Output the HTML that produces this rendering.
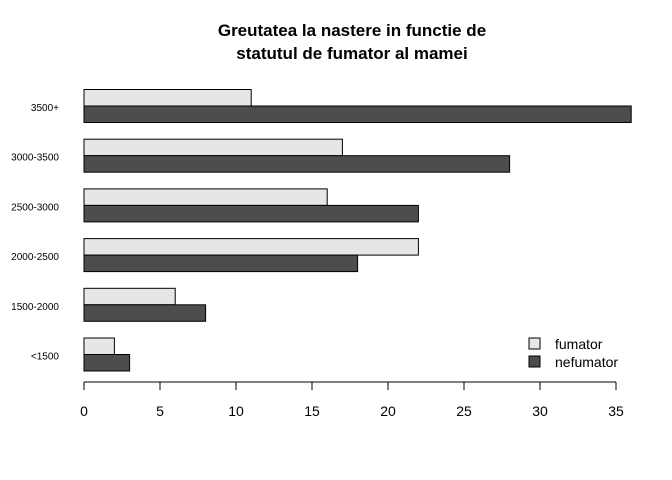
<!DOCTYPE html>
<html><head><meta charset="utf-8"><style>
body{margin:0;background:#fff}
svg{display:block;font-family:"Liberation Sans",Arial,sans-serif}
</style></head><body>
<svg width="672" height="480">
<text x="352" y="36" text-anchor="middle" font-size="17" font-weight="bold">Greutatea la nastere in functie de</text>
<text x="352" y="59" text-anchor="middle" font-size="17" font-weight="bold">statutul de fumator al mamei</text>
<g id="bars"></g>
<g id="axis"></g>
<g>
<rect x="529" y="338" width="11" height="11" fill="#e6e6e6" stroke="#000"/>
<text x="555" y="349" font-size="14">fumator</text>
<rect x="529" y="356" width="11" height="11" fill="#4d4d4d" stroke="#000"/>
<text x="555" y="367" font-size="14">nefumator</text>
</g>
</svg>
<script>
const categories=["<1500","1500-2000","2000-2500","2500-3000","3000-3500","3500+"];
const fumator=[2,6,22,16,17,11];
const nefumator=[3,8,18,22,28,36];
const ticks=[0,5,10,15,20,25,30,35];
const NS="http://www.w3.org/2000/svg";
const x=v=>84+v*(532/35);
const yTop=i=>338-i*49.7;
const bars=document.getElementById('bars'),axis=document.getElementById('axis');
function mk(tag,attrs,parent){const e=document.createElementNS(NS,tag);for(const k in attrs)e.setAttribute(k,attrs[k]);parent.appendChild(e);return e;}
categories.forEach((c,i)=>{
 const t=yTop(i);
 const r1=mk('rect',{x:x(0),y:t,width:x(fumator[i])-x(0),height:16.5,fill:'#e6e6e6',stroke:'#000'},bars);
 
 
 const r2=mk('rect',{x:x(0),y:t+16.5,width:x(nefumator[i])-x(0),height:16.5,fill:'#4d4d4d',stroke:'#000'},bars);
 
 
 const lb=mk('text',{x:59,y:t+21.5,'text-anchor':'end','font-size':'10'},bars);
 lb.textContent=c;
 
 
});
const al=mk('line',{x1:x(0),x2:x(35),y1:382,y2:382,stroke:'#000'},axis);


ticks.forEach(v=>{
 const tl=mk('line',{x1:x(v),x2:x(v),y1:382,y2:390,stroke:'#000'},axis);
 
 
 const tx=mk('text',{x:x(v),y:416,'text-anchor':'middle','font-size':'14'},axis);
 tx.textContent=v;
 
 
});
</script>
</body></html>
